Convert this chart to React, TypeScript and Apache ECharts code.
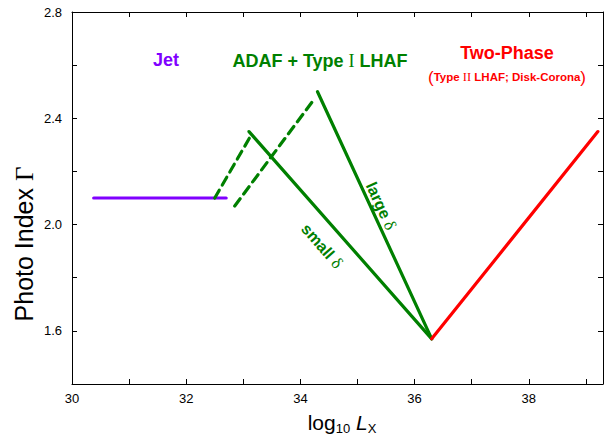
import React, { useEffect, useRef } from "react";
import * as echarts from "echarts";

const jetX = [30.38, 32.7];
const jetY = [2.1, 2.1];
const smallDeltaX = [33.1, 36.3];
const smallDeltaY = [2.35, 1.57];
const largeDeltaX = [34.3, 36.3];
const largeDeltaY = [2.5, 1.57];
const dashSmallX = [32.5, 33.12];
const dashSmallY = [2.1, 2.33];
const dashLargeX = [32.85, 34.2];
const dashLargeY = [2.07, 2.46];
const twoPhaseX = [36.3, 39.21];
const twoPhaseY = [1.57, 2.35];

const xTickLabels = ["30", "32", "34", "36", "38"];
const yTickLabels = ["1.6", "2.0", "2.4", "2.8"];

const FONT = "'Liberation Sans', Arial, sans-serif";
const SERIF = "'Liberation Serif', 'Times New Roman', serif";
const GREEN = "#008000";
const RED = "#ff0000";
const PURPLE = "#8000ff";

const pairs = (xs: number[], ys: number[]) => xs.map((x, i) => [x, ys[i]]);

export default function App() {
  const ref = useRef<HTMLDivElement>(null);
  useEffect(() => {
    document.body.style.margin = "0";
    const chart = echarts.init(ref.current!, null, { renderer: "svg" });
    const line = (name: string, xs: number[], ys: number[], color: string, dashed = false) => ({
      name,
      type: "line",
      data: pairs(xs, ys),
      symbol: "none",
      showSymbol: false,
      lineStyle: { color, width: 3.2, type: dashed ? [9, 6] : "solid", cap: "round" },
      z: 3,
    });
    const axisLine = { show: true, onZero: false, lineStyle: { color: "#000", width: 1 } };
    const tick = { show: true, inside: true, length: 5, lineStyle: { color: "#000", width: 1 } };
    chart.setOption({
      animation: false,
      backgroundColor: "#fff",
      grid: { left: 72, top: 12, right: 13, bottom: 55, containLabel: false },
      xAxis: [
        {
          type: "value", min: 30, max: 39.3, interval: 1,
          axisLine, axisTick: tick, splitLine: { show: false },
          axisLabel: {
            color: "#000", fontFamily: FONT, fontSize: 13, margin: 8,
            formatter: (v: number) => (xTickLabels.includes(String(Math.round(v * 100) / 100)) ? String(v) : ""),
          },
        },
        {
          type: "value", position: "top", min: 30, max: 39.3, interval: 1,
          axisLine, axisTick: tick, axisLabel: { show: false }, splitLine: { show: false },
        },
      ],
      yAxis: [
        {
          type: "value", min: 1.4, max: 2.8, interval: 0.2,
          axisLine, axisTick: tick, splitLine: { show: false },
          axisLabel: {
            color: "#000", fontFamily: FONT, fontSize: 13, margin: 10,
            formatter: (v: number) => {
              const s = (Math.round(v * 10) / 10).toFixed(1);
              return yTickLabels.includes(s) ? s : "";
            },
          },
        },
        {
          type: "value", position: "right", min: 1.4, max: 2.8, interval: 0.2,
          axisLine, axisTick: tick, axisLabel: { show: false }, splitLine: { show: false },
        },
      ],
      series: [
        line("Jet", jetX, jetY, PURPLE),
        line("dash small", dashSmallX, dashSmallY, GREEN, true),
        line("dash large", dashLargeX, dashLargeY, GREEN, true),
        line("small delta", smallDeltaX, smallDeltaY, GREEN),
        line("large delta", largeDeltaX, largeDeltaY, GREEN),
        line("Two-Phase", twoPhaseX, twoPhaseY, RED),
      ],
      graphic: [
        {
          type: "text", x: 166, y: 60,
          style: { text: "Jet", fill: PURPLE, font: `bold 18px ${FONT}`, align: "center", verticalAlign: "middle" },
        },
        {
          type: "text", x: 320, y: 61,
          style: {
            text: "ADAF + Type {r|I} LHAF", fill: GREEN, font: `bold 18px ${FONT}`,
            align: "center", verticalAlign: "middle",
            rich: { r: { fontFamily: SERIF, fontWeight: "normal", fontSize: 18, fill: GREEN } },
          },
        },
        {
          type: "text", x: 507, y: 53,
          style: { text: "Two-Phase", fill: RED, font: `bold 18px ${FONT}`, align: "center", verticalAlign: "middle" },
        },
        {
          type: "text", x: 507, y: 77,
          style: {
            text: "{p|(}Type {r|II} LHAF; Disk-Corona{p|)}", fill: RED, font: `bold 11.5px ${FONT}`,
            align: "center", verticalAlign: "middle",
            rich: {
              p: { fontFamily: FONT, fontWeight: "normal", fontSize: 17, fill: RED },
              r: { fontFamily: SERIF, fontWeight: "normal", fontSize: 12.5, fill: RED },
            },
          },
        },
        {
          type: "text", x: 381, y: 206, rotation: -1.138,
          style: {
            text: "large {d|δ}", fill: GREEN, font: `bold 16px ${FONT}`, align: "center", verticalAlign: "middle",
            rich: { d: { fontFamily: SERIF, fontWeight: "normal", fontSize: 17, fill: GREEN } },
          },
        },
        {
          type: "text", x: 322, y: 246, rotation: -0.85,
          style: {
            text: "small {d|δ}", fill: GREEN, font: `bold 16px ${FONT}`, align: "center", verticalAlign: "middle",
            rich: { d: { fontFamily: SERIF, fontWeight: "normal", fontSize: 17, fill: GREEN } },
          },
        },
        {
          type: "text", x: 24, y: 244, rotation: Math.PI / 2,
          style: {
            text: "Photo Index {g|Γ}", fill: "#000", font: `25px ${FONT}`, align: "center", verticalAlign: "middle",
            rich: { g: { fontFamily: SERIF, fontSize: 25, fill: "#000" } },
          },
        },
        {
          type: "text", x: 342, y: 422,
          style: {
            text: "log{s|10} {l|L}{s|X}", fill: "#000", font: `21px ${FONT}`, align: "center", verticalAlign: "middle",
            rich: {
              s: { fontFamily: FONT, fontSize: 13, fill: "#000", padding: [12, 0, 0, 0] },
              l: { fontFamily: FONT, fontStyle: "italic", fontSize: 21, fill: "#000" },
            },
          },
        },
      ],
    });
    return () => chart.dispose();
  }, []);
  return <div ref={ref} style={{ width: 616, height: 439 }} />;
}
